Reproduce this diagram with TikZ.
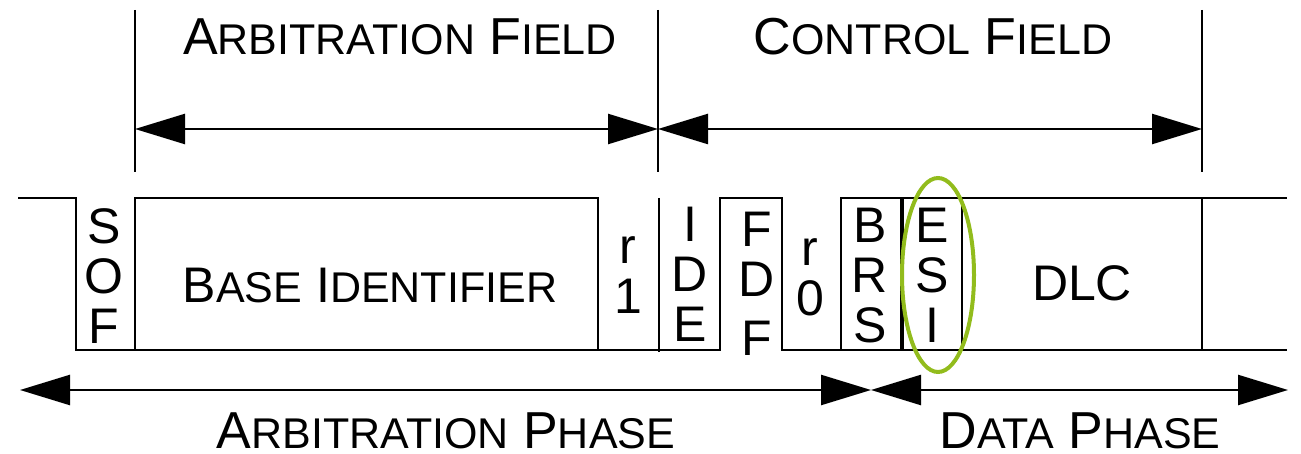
\documentclass[tikz,border=0pt]{standalone}
\usepackage{fontspec}
\setmainfont{Liberation Sans}
\usetikzlibrary{arrows.meta}

\definecolor{esigreen}{RGB}{146,188,28}
\newcommand\bitfont{\fontsize{50}{50}\selectfont}
\newcommand\lowcaps[1]{{\fontsize{43}{43}\selectfont #1}}

\begin{document}
\begin{tikzpicture}[
  x=1pt, y=-1pt,
  sig/.style={line width=2.6pt},
  tick/.style={line width=2.4pt},
  span/.style={{Triangle[length=50pt,width=30pt]}-{Triangle[length=50pt,width=30pt]}, line width=2.4pt},
  bits/.style={font=\bitfont, align=center, inner sep=0pt, anchor=north},
  title/.style={font=\fontsize{52}{52}\selectfont, inner sep=0pt, anchor=base}
]
\useasboundingbox (0,0) rectangle (1301,454);

% field labels on top
\node[title] (arbfield) at (400,55) {A\lowcaps{RBITRATION} F\lowcaps{IELD}};
\node[title] (ctrlfield) at (933,55) {C\lowcaps{ONTROL} F\lowcaps{IELD}};

\coordinate (af-l) at (135,129);
\coordinate (af-r) at (658,129);
\coordinate (cf-r) at (1202,129);
\draw[tick] (135,10) -- (135,172);
\draw[tick] (658,10) -- (658,172);
\draw[tick] (1202,10) -- (1202,172);
\draw[span] (af-l) -- (af-r);
\draw[span] (af-r) -- (cf-r);

% the frame bits
\draw[sig] (18,198) -| (76,350) -- (720,350) |- (782,198) -- (782,350) -- (841,350);
\draw[sig] (841,350) |- (1287,198);
\draw[sig] (841,350) -- (1287,350);
\draw[sig] (135,350) |- (598,198) -- (598,350);
\draw[tick] (659,198) -- (659,352);
\draw[sig, line width=4pt] (902,198) -- (902,350);
\draw[sig] (962,198) -- (962,350);
\draw[sig] (1202,198) -- (1202,350);

\node[bits] (sof) at (104,208) {S\\O\\F};
\node[title, font=\bitfont] (baseid) at (370,302) {B\lowcaps{ASE} I\lowcaps{DENTIFIER}};
\node[bits] (r1) at (628,236) {r\\1};
\node[bits] (ide) at (690,207) {I\\D\\E};
\node[bits] (fdf) at (757,212) {F\\D\\[9pt]F};
\node[bits] (r0) at (810,238) {r\\0};
\node[bits] (brs) at (870,208) {B\\R\\S};
\node[bits] (esi) at (932,208) {E\\S\\I};
\node[font=\bitfont, inner sep=0pt] (dlc) at (1082,283) {DLC};

\draw[esigreen, line width=4pt] (938,275) ellipse [x radius=36pt, y radius=97pt];

% phases below
\coordinate (ap-l) at (20,390);
\coordinate (ap-r) at (871,390);
\coordinate (dp-r) at (1288,390);
\draw[span] (ap-l) -- (ap-r);
\draw[span] (ap-r) -- (dp-r);
\node[title] (arbphase) at (446,448) {A\lowcaps{RBITRATION} P\lowcaps{HASE}};
\node[title] (dataphase) at (1080,448) {D\lowcaps{ATA} P\lowcaps{HASE}};
\end{tikzpicture}
\end{document}
